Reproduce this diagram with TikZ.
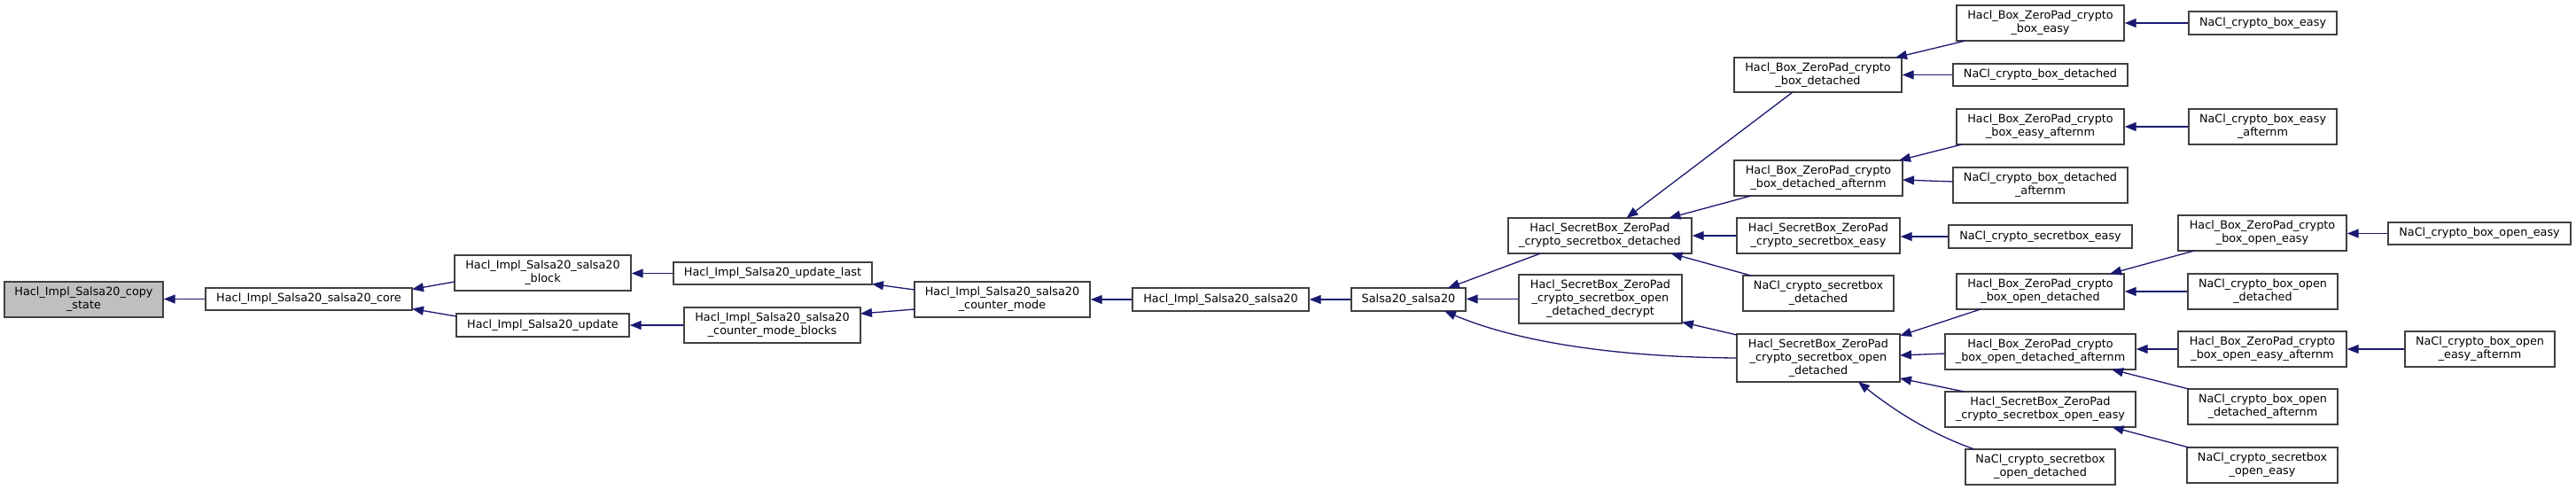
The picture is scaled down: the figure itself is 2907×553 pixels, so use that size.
\documentclass[tikz,border=0pt]{standalone}
\usepackage{fontspec}
\setmainfont{DejaVu Sans}
\usetikzlibrary{arrows.meta}
\definecolor{edgeblue}{HTML}{191970}
\definecolor{boxline}{HTML}{404040}
\definecolor{curfill}{HTML}{BFBFBF}
\tikzset{
  fnbox/.style={draw=boxline, line width=1.4pt, fill=white, inner sep=0pt, align=center,
    font={\fontsize{12.8}{15}\selectfont}},
  curbox/.style={fnbox, fill=curfill},
  callarrow/.style={draw=edgeblue, line width=1.3pt, -{Triangle[length=13pt,width=10pt]}, fill=none}
}
\newcommand\fnnode[7][fnbox]{\node[#1, minimum width=#5pt, minimum height=#6pt] (#2) at (#3,#4) {#7};}
\newcommand\at[3]{([shift={(#2,#3)}]#1.center)}
\begin{document}
\begin{tikzpicture}[x=1pt,y=-1pt]
\useasboundingbox (0,0) rectangle (2907,553);
% column 0-2
\fnnode[curbox]{copy}{94.5}{338}{179}{40}{Hacl\_Impl\_Salsa20\_copy\\\_state}
\fnnode{core}{348.5}{337.5}{233}{25}{Hacl\_Impl\_Salsa20\_salsa20\_core}
\fnnode{block}{612.5}{308}{199}{40}{Hacl\_Impl\_Salsa20\_salsa20\\\_block}
\fnnode{update}{612.5}{367}{195}{26}{Hacl\_Impl\_Salsa20\_update}
\fnnode{updlast}{872}{308.5}{224}{25}{Hacl\_Impl\_Salsa20\_update\_last}
\fnnode{cmblocks}{871.5}{367}{199}{40}{Hacl\_Impl\_Salsa20\_salsa20\\\_counter\_mode\_blocks}
\fnnode{cmode}{1131}{338}{198}{40}{Hacl\_Impl\_Salsa20\_salsa20\\\_counter\_mode}
\fnnode{hsalsa}{1377.5}{338}{199}{26}{Hacl\_Impl\_Salsa20\_salsa20}
\fnnode{ssalsa}{1589.5}{338}{129}{26}{Salsa20\_salsa20}
% column secretbox
\fnnode{sbdet}{1805.5}{266}{207}{40}{Hacl\_SecretBox\_ZeroPad\\\_crypto\_secretbox\_detached}
\fnnode{decrypt}{1806}{337.5}{184}{55}{Hacl\_SecretBox\_ZeroPad\\\_crypto\_secretbox\_open\\\_detached\_decrypt}
% next column
\fnnode{boxdet}{2051.5}{84.5}{189}{39}{Hacl\_Box\_ZeroPad\_crypto\\\_box\_detached}
\fnnode{boxdetaf}{2052}{201}{190}{40}{Hacl\_Box\_ZeroPad\_crypto\\\_box\_detached\_afternm}
\fnnode{sbeasy}{2052}{266}{184}{40}{Hacl\_SecretBox\_ZeroPad\\\_crypto\_secretbox\_easy}
\fnnode{naclsbdet}{2052}{331}{170}{40}{NaCl\_crypto\_secretbox\\\_detached}
\fnnode{opendet}{2052}{404}{184}{54}{Hacl\_SecretBox\_ZeroPad\\\_crypto\_secretbox\_open\\\_detached}
% next column
\fnnode{boxeasy}{2302.5}{26}{189}{40}{Hacl\_Box\_ZeroPad\_crypto\\\_box\_easy}
\fnnode{naclboxdet}{2302.5}{84.5}{197}{25}{NaCl\_crypto\_box\_detached}
\fnnode{boxeasyaf}{2302.5}{143}{189}{40}{Hacl\_Box\_ZeroPad\_crypto\\\_box\_easy\_afternm}
\fnnode{naclboxdetaf}{2302.5}{209}{197}{40}{NaCl\_crypto\_box\_detached\\\_afternm}
\fnnode{naclsbeasy}{2302.5}{267}{207}{26}{NaCl\_crypto\_secretbox\_easy}
\fnnode{boxopendet}{2302.5}{329}{189}{40}{Hacl\_Box\_ZeroPad\_crypto\\\_box\_open\_detached}
\fnnode{boxopendetaf}{2302.5}{397}{215}{40}{Hacl\_Box\_ZeroPad\_crypto\\\_box\_open\_detached\_afternm}
\fnnode{sbopeneasy}{2302.5}{462}{215}{40}{Hacl\_SecretBox\_ZeroPad\\\_crypto\_secretbox\_open\_easy}
\fnnode{naclsbopendet}{2302.5}{527}{169}{40}{NaCl\_crypto\_secretbox\\\_open\_detached}
% next column
\fnnode{naclboxeasy}{2553.5}{26}{167}{26}{NaCl\_crypto\_box\_easy}
\fnnode{naclboxeasyaf}{2553.5}{143}{167}{40}{NaCl\_crypto\_box\_easy\\\_afternm}
\fnnode{boxopeneasy}{2553}{263}{190}{40}{Hacl\_Box\_ZeroPad\_crypto\\\_box\_open\_easy}
\fnnode{naclboxopendet}{2553.5}{329}{169}{40}{NaCl\_crypto\_box\_open\\\_detached}
\fnnode{boxopeneasyaf}{2553}{394}{190}{40}{Hacl\_Box\_ZeroPad\_crypto\\\_box\_open\_easy\_afternm}
\fnnode{naclboxopendetaf}{2553.5}{459}{169}{40}{NaCl\_crypto\_box\_open\\\_detached\_afternm}
\fnnode{naclsbopeneasy}{2553}{525}{170}{40}{NaCl\_crypto\_secretbox\\\_open\_easy}
% last column
\fnnode{naclboxopeneasy}{2798}{263.5}{206}{25}{NaCl\_crypto\_box\_open\_easy}
\fnnode{naclboxopeneasyaf}{2798.5}{394}{169}{40}{NaCl\_crypto\_box\_open\\\_easy\_afternm}

% edges (caller -> callee, arrow at callee)
\draw[callarrow] (core.west) -- (copy.east |- core.west);
\draw[callarrow] \at{block}{-99.5}{10} -- \at{core}{116.5}{-11};
\draw[callarrow] \at{update}{-97.5}{-10} -- \at{core}{116.5}{11};
\draw[callarrow] (updlast.west) -- (block.east |- updlast.west);
\draw[callarrow] (cmblocks.west) -- (update.east |- cmblocks.west);
\draw[callarrow] \at{cmode}{-99}{-11} -- \at{updlast}{112}{12};
\draw[callarrow] \at{cmode}{-99}{11} -- \at{cmblocks}{99.5}{-13};
\draw[callarrow] (hsalsa.west) -- (cmode.east |- hsalsa.west);
\draw[callarrow] (ssalsa.west) -- (hsalsa.east |- ssalsa.west);
\draw[callarrow] \at{sbdet}{-67}{20} -- \at{ssalsa}{44.5}{-13};
\draw[callarrow] (decrypt.west) -- (ssalsa.east |- decrypt.west);
\draw[callarrow] (opendet.west) .. controls (1820,403) and (1710,385) .. \at{ssalsa}{40.5}{13};
\draw[callarrow] \at{boxdet}{-28.5}{19.5} -- \at{sbdet}{30}{-20};
\draw[callarrow] \at{boxdetaf}{-76}{20} -- \at{sbdet}{78}{-20};
\draw[callarrow] (sbeasy.west) -- (sbdet.east |- sbeasy.west);
\draw[callarrow] \at{naclsbdet}{-76}{-20} -- \at{sbdet}{80}{20};
\draw[callarrow] \at{boxeasy}{-84.5}{20} -- \at{boxdet}{87.5}{-19.5};
\draw[callarrow] (naclboxdet.west) -- (boxdet.east |- naclboxdet.west);
\draw[callarrow] \at{boxeasyaf}{-88.5}{20} -- \at{boxdetaf}{91}{-20};
\draw[callarrow] \at{naclboxdetaf}{-98.5}{-4} -- \at{boxdetaf}{95}{2};
\draw[callarrow] (naclsbeasy.west) -- (sbeasy.east |- naclsbeasy.west);
\draw[callarrow] (naclboxeasy.west) -- (boxeasy.east |- naclboxeasy.west);
\draw[callarrow] (naclboxeasyaf.west) -- (boxeasyaf.east |- naclboxeasyaf.west);
\draw[callarrow] \at{opendet}{-92}{-26} -- \at{decrypt}{92}{26};
\draw[callarrow] \at{boxopendet}{-67.5}{20} -- \at{opendet}{92}{-25};
\draw[callarrow] \at{boxopendetaf}{-107.5}{2} -- \at{opendet}{92}{-3};
\draw[callarrow] \at{sbopeneasy}{-86}{-20} -- \at{opendet}{92}{23};
\draw[callarrow] \at{naclsbopendet}{-74.5}{-20} .. controls (2180,490) and (2140,465) .. \at{opendet}{45}{27};
\draw[callarrow] \at{boxopeneasy}{-77}{20} -- \at{boxopendet}{78.5}{-20};
\draw[callarrow] (naclboxopendet.west) -- (boxopendet.east |- naclboxopendet.west);
\draw[callarrow] (boxopeneasyaf.west) -- (boxopendetaf.east |- boxopeneasyaf.west);
\draw[callarrow] \at{naclboxopendetaf}{-83.5}{-20} -- \at{boxopendetaf}{80.5}{20};
\draw[callarrow] \at{naclsbopeneasy}{-83}{-20} -- \at{sbopeneasy}{81}{20};
\draw[callarrow] (naclboxopeneasy.west) -- (boxopeneasy.east |- naclboxopeneasy.west);
\draw[callarrow] (naclboxopeneasyaf.west) -- (boxopeneasyaf.east |- naclboxopeneasyaf.west);
\end{tikzpicture}
\end{document}
